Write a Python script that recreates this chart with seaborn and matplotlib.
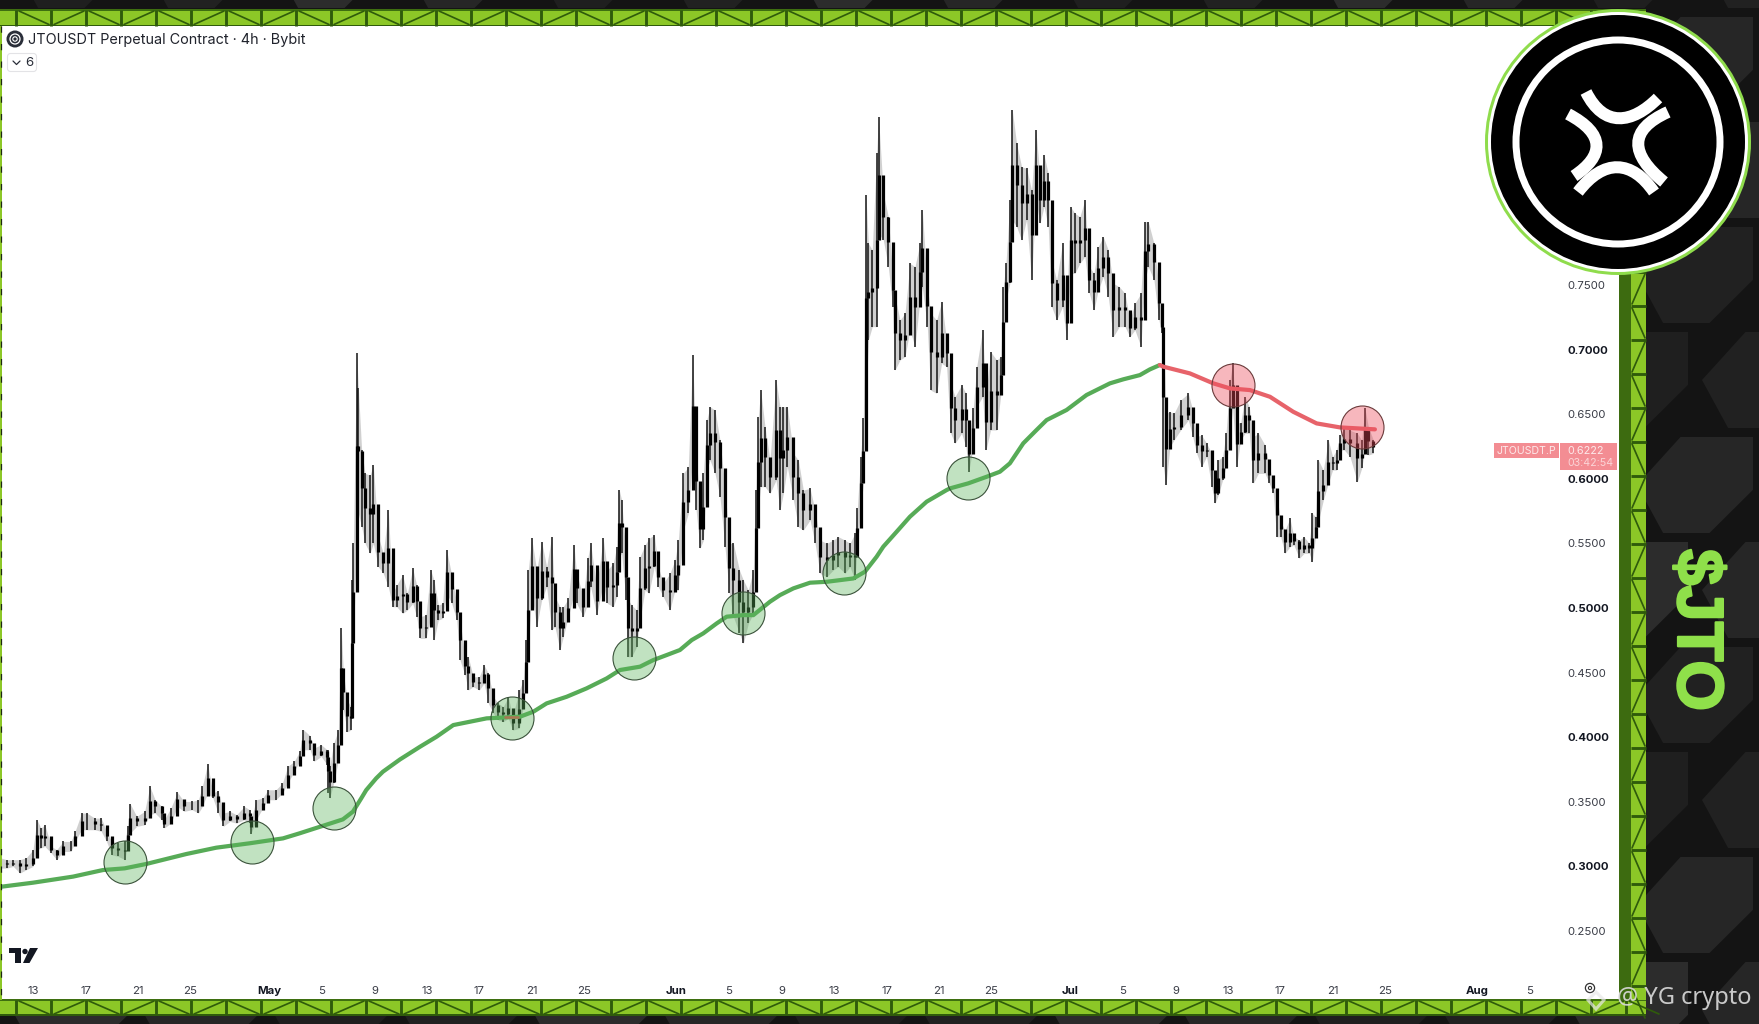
import numpy as np
import pandas as pd
import matplotlib
matplotlib.use("Agg")
import matplotlib.pyplot as plt
import matplotlib.patheffects as pe
from matplotlib.patches import Polygon, Circle, Rectangle, PathPatch, FancyBboxPatch
from matplotlib.path import Path
import seaborn as sns

# ---------- data: day = days counted from 31 Mar 2025 (1 = Apr 1, 31 = May 1, 62 = Jun 1, 92 = Jul 1)
apr_day = [10.6,11.0,11.5,12.0,12.5,13.0,13.3,13.6,13.9,14.4,14.8,15.3,15.9,16.2,16.7,17.1,17.7,18.2,18.6,19.0,19.5,20.0,20.2,20.4,20.9,21.5,21.9,22.3,22.8,23.0,23.5,24.0,24.5,25.1,25.6,25.9,26.3,26.7,27.1,27.5,28.0,28.5,29.1,29.5,29.6,30.0,30.5,30.9]
apr_high = [.3064,.3052,.3052,.3052,.3068,.3129,.3361,.3297,.3322,.3155,.3129,.3193,.3193,.3271,.3413,.3413,.3374,.3374,.3271,.3193,.3181,.3193,.3310,.3485,.3387,.3426,.3619,.3516,.3464,.3361,.3452,.3573,.3503,.3503,.3516,.3619,.3795,.3568,.3586,.3413,.3426,.3400,.3464,.3439,.3361,.3516,.3529,.3593]
apr_low = [.2987,.2987,.3000,.2948,.2975,.3000,.3129,.3142,.3155,.3103,.3052,.3116,.3116,.3193,.3284,.3284,.3284,.3271,.3193,.3090,.3077,.3052,.3181,.3258,.3310,.3322,.3400,.3413,.3361,.3297,.3335,.3464,.3426,.3439,.3413,.3464,.3568,.3529,.3413,.3310,.3348,.3335,.3361,.3335,.3253,.3361,.3452,.3516]

may_day = [31.5,32.0,32.4,32.9,33.3,33.6,34.1,34.4,34.95,35.4,35.5,35.6,35.9,36.26,36.48,36.64,36.94,37.2,37.32,37.4,37.65,37.78,38.03,38.29,38.67,38.92,39.3,39.68,40.06,40.39,40.7,41.15,41.51,41.92,42.22,42.47,42.93,43.29,43.54,43.87,44.2,44.5,44.89,45.27,45.52,45.9,46.15,46.53,46.99,47.35,47.68,48.06,48.44,48.82,49.2,49.53,50.04,50.34,50.55,50.72,50.98,51.36,51.74,52.12,52.5,52.75,53.13,53.39,53.77,54.2,54.4,54.91,55.24,55.47,55.93,56.43,56.74,57.2,57.45,57.65,57.83,58.16,58.34,58.59,58.97,59.23,59.61,59.91,60.32,60.62,61.0,61.51,61.89]
may_high = [.3593,.3645,.3774,.3813,.3890,.4058,.4011,.3916,.3942,.3903,.3903,.3774,.3955,.4055,.4842,.4494,.4288,.4236,.5216,.5500,.6976,.6700,.6223,.6042,.6029,.6107,.5552,.5423,.5758,.5113,.5178,.5255,.5113,.5307,.5178,.4933,.4945,.5294,.5216,.5023,.5036,.5449,.5255,.5036,.4907,.4623,.4623,.4468,.4468,.4558,.4494,.4313,.4262,.4236,.4313,.4159,.4365,.4442,.4752,.5294,.5539,.5294,.5513,.5320,.5552,.5087,.5010,.5010,.5074,.5487,.5268,.5087,.5384,.5500,.5165,.5539,.5294,.5345,.5474,.5913,.5836,.5423,.5062,.5023,.4984,.5397,.5487,.5539,.5565,.5320,.5191,.5268,.5371]
may_low = [.3516,.3568,.3645,.3735,.3813,.3903,.3903,.3813,.3851,.3787,.3568,.3529,.3645,.3823,.4236,.4210,.4042,.4055,.4236,.4752,.5526,.5732,.5629,.5500,.5423,.5500,.5320,.5268,.5165,.5010,.5010,.4958,.4984,.5036,.4933,.4765,.4765,.4933,.4752,.4907,.4920,.5113,.5036,.4907,.4597,.4481,.4365,.4391,.4365,.4417,.4262,.4184,.4133,.4120,.4146,.4055,.4068,.4236,.4417,.4675,.5113,.4855,.5062,.5165,.4829,.4855,.4675,.4778,.4933,.5113,.5036,.4933,.5036,.5165,.4945,.5191,.5036,.5010,.5087,.5397,.5423,.5062,.4623,.4623,.4700,.4907,.5139,.5113,.5320,.5165,.5087,.4984,.5139]

jun_day = [62.15,62.53,62.91,63.24,63.5,63.8,64.06,64.31,64.56,64.94,65.32,65.7,66.03,66.34,66.8,67.1,67.48,67.86,68.07,68.24,68.42,68.75,69.13,69.59,69.89,70.15,70.45,70.91,71.29,71.67,72.18,72.56,72.94,73.45,73.95,74.33,74.84,75.22,75.6,75.78,76.03,76.24,76.44,76.62,76.92,77.25,77.4,77.76,78.14,78.47,78.65,79.03,79.41,79.79,80.17,80.55,80.73,81.11,81.36,81.82,82.2,82.58,82.89,83.22,83.72,84.05,84.26,84.61,84.87,85.32,85.58,85.93,86.39,86.72,86.9,87.1,87.4,87.58,87.91,88.29,88.67,89.05,89.38,89.69,90.0,90.32,90.58,90.96,91.41,91.72]
jun_high = [.5526,.6042,.6094,.6958,.6210,.5758,.6042,.6455,.6558,.6532,.6300,.5939,.5500,.5500,.5294,.5216,.5139,.5294,.5913,.6481,.6687,.6403,.6145,.6764,.6558,.6558,.6558,.6197,.6145,.5913,.5926,.5758,.5526,.5500,.5526,.5552,.5526,.5500,.5578,.5771,.6171,.6468,.8197,.7823,.7771,.8519,.8798,.8210,.8029,.7590,.7410,.7229,.7281,.7668,.7642,.7823,.8081,.7500,.7281,.7229,.7371,.7074,.6739,.6636,.6726,.6662,.6326,.6545,.6868,.7152,.6662,.6984,.6920,.6945,.7487,.7668,.8158,.8855,.8597,.8416,.8403,.8235,.8700,.8339,.8506,.8364,.7694,.7539,.7823,.7332]
jun_low = [.5139,.5603,.5732,.6171,.5758,.5461,.5526,.6068,.6145,.6042,.5861,.5474,.5113,.4933,.4804,.4726,.4881,.4958,.5320,.5784,.5939,.5939,.5887,.5990,.5758,.5887,.6094,.5836,.5629,.5603,.5681,.5500,.5268,.5242,.5294,.5320,.5268,.5320,.5216,.5474,.5758,.5965,.6610,.7074,.7178,.7178,.7900,.7848,.7642,.7332,.6842,.6920,.6945,.7152,.7023,.7384,.7487,.7178,.6687,.6662,.6894,.6868,.6352,.6275,.6352,.6249,.6055,.6249,.6558,.6636,.6223,.6378,.6378,.6662,.6945,.7384,.7513,.8003,.7952,.7848,.8003,.7539,.8158,.7977,.8106,.7952,.7332,.7229,.7332,.7074]

jul_day = [92.02,92.35,92.73,93.11,93.45,93.8,94.13,94.51,94.89,95.27,95.73,96.16,96.54,96.92,97.38,97.68,97.94,98.37,98.75,98.95,99.08,99.29,99.59,99.9,100.4,100.99,101.32,101.62,102.0,102.38,102.77,103.02,103.27,103.6,103.86,104.16,104.36,104.67,104.97,105.3,105.63,105.94,106.32,106.83,107.16,107.46,107.71,108.02,108.35,108.73,109.03,109.44,109.8,110.2,110.43,110.68,110.89,111.27,111.65,111.98,112.28,112.54,112.87,113.3,113.86,114.19,114.44,114.7,115.08]
jul_high = [.8106,.8055,.8029,.8158,.7642,.7590,.7797,.7874,.7771,.7513,.7487,.7436,.7229,.7358,.7436,.7990,.7990,.7823,.7487,.7229,.7178,.6506,.6519,.6506,.6610,.6661,.6532,.6326,.6339,.6274,.6197,.5965,.6145,.6171,.6352,.6764,.6893,.6442,.6429,.6635,.6558,.6326,.6352,.6261,.6094,.5965,.5887,.5668,.5603,.5694,.5552,.5526,.5552,.5500,.5732,.5707,.6145,.6068,.6300,.6171,.6223,.6339,.6390,.6377,.6352,.6300,.6545,.6403,.6300]
jul_low = [.7590,.7590,.7668,.7719,.7436,.7307,.7461,.7565,.7410,.7100,.7178,.7178,.7100,.7152,.7023,.7539,.7642,.7539,.7229,.7126,.6094,.5952,.6248,.6300,.6377,.6455,.6326,.6197,.6094,.6171,.5939,.5810,.5874,.5990,.6094,.6326,.6558,.6094,.6300,.6352,.6352,.5965,.6042,.6042,.5965,.5887,.5552,.5552,.5423,.5474,.5487,.5384,.5423,.5423,.5358,.5552,.5668,.5836,.5965,.6068,.6068,.6223,.6223,.6171,.5977,.6081,.6223,.6184,.6197]

ema_up_day = [10.6,13.0,16.05,18.33,19.98,21.63,24.68,26.96,29.5,32.04,33.3,35.84,36.6,37.37,38.0,38.38,39.14,39.65,40.95,42.47,43.74,45.01,46.28,47.55,50.09,51.1,52.12,53.64,55.16,56.69,57.7,59.23,60.24,61.26,62.27,63.17,64.05,65.07,65.83,67.1,67.86,69.13,69.89,70.91,72.18,73.45,75.48,76.36,77.25,77.76,78.78,79.79,81.06,82.58,82.84,84.23,85.63,86.64,87.4,88.42,89.43,90.2,91.72,93.24,95.02,96.03,97.3,98.06,98.82]
ema_up_val = [.2843,.2874,.2921,.2972,.2985,.3019,.3096,.3145,.3179,.3217,.3256,.3339,.3364,.3424,.3527,.3591,.3682,.3733,.3828,.3926,.4004,.4094,.4120,.4146,.4159,.4197,.4262,.4313,.4378,.4455,.4520,.4546,.4597,.4636,.4675,.4752,.4804,.4881,.4933,.4945,.4945,.5049,.5100,.5152,.5196,.5203,.5229,.5281,.5397,.5475,.5591,.5707,.5823,.5913,.5926,.5965,.6016,.6055,.6120,.6275,.6378,.6455,.6533,.6649,.6739,.6770,.6803,.6847,.6881]
ema_down_day = [98.82,99.09,101.11,102.89,104.16,105.68,107.21,108.98,110.76,112.54,115.2]
ema_down_val = [.6881,.6868,.6816,.6739,.6700,.6687,.6635,.6519,.6429,.6398,.6383]
ema_flip_day = [48.95,49.96]
ema_flip_val = [.4158,.4158]

support_day = [20.0,29.68,35.92,49.48,58.77,67.07,74.77,84.21]
support_val = [.3034,.3189,.3452,.4149,.4613,.4961,.5271,.6006]
resist_day = [104.4,114.2]
resist_val = [.6726,.6401]

price_ticks = [.25,.30,.35,.40,.45,.50,.55,.60,.65,.70,.75]
price_bold = [.30,.40,.50,.60,.70]
date_ticks = [13,17,21,25,31,35,39,43,47,51,55,62,66,70,74,78,82,86,92,96,100,104,108,112,116,123,127]
date_labels = ["13","17","21","25","May","5","9","13","17","21","25","Jun","5","9","13","17","21","25","Jul","5","9","13","17","21","25","Aug","5"]
title_text = "JTOUSDT Perpetual Contract · 4h · Bybit"

# ---------- helpers
W, H = 1759, 1024
BASE = pd.Timestamp("2025-03-31")
def to_date(d):
    return BASE + pd.to_timedelta(np.asarray(d, float), unit="D")

sns.set_theme(style="white")
plt.rcParams["font.family"] = ["Inter", "DejaVu Sans"]
fig = plt.figure(figsize=(W/100, H/100), dpi=100, facecolor="#141414")
PX = 72/100

def pxaxes(z):
    a = fig.add_axes([0, 0, 1, 1], zorder=z)
    a.set_xlim(0, W); a.set_ylim(H, 0); a.axis("off")
    a.patch.set_alpha(0)
    return a

bg = pxaxes(0)
# dark tile background
cols = ["#262626", "#2c2c2c", "#212121", "#1f1f1f"]
for j, yc in enumerate(np.arange(-40, H+120, 105)):
    for i, xc in enumerate(np.arange(-60, W+120, 130)):
        xo = xc + (65 if j % 2 else 0)
        hw, hh = 58, 48
        bg.add_patch(Polygon([(xo-hw, yc), (xo-hw*0.25, yc-hh), (xo+hw, yc-hh), (xo+hw, yc+hh*0.1), (xo+hw*0.25, yc+hh), (xo-hw*0.55, yc+hh)],
                             fc=cols[(i*3+j) % 4], ec="none"))

LIGHT, DARK = "#8cc727", "#2f5b0b"
def hband(x0, x1, y0, y1):
    bg.add_patch(Rectangle((x0, y0), x1-x0, y1-y0, fc=LIGHT, ec="none"))
    bg.add_patch(Rectangle((x0, y0-1.5), x1-x0, 2, fc="#3e6f10", ec="none"))
    bg.add_patch(Rectangle((x0, y1-1), x1-x0, 1.5, fc=DARK, ec="none"))
    xs = np.arange(x0+16, x1, 35)
    for k, x in enumerate(xs):
        bg.plot([x, x], [y0, y1], color=DARK, lw=2.4*PX*1.2, solid_capstyle="butt")
        if k % 2:
            bg.plot([x+3, x+33], [y1-1, y0+1], color=DARK, lw=1.7*PX)
        else:
            bg.plot([x+3, x+33], [y0+1, y1-1], color=DARK, lw=1.7*PX)
def vband(x0, x1, y0, y1):
    bg.add_patch(Rectangle((x0, y0), x1-x0, y1-y0, fc=LIGHT, ec="none"))
    ys = np.arange(y0+8, y1, 34)
    for k, y in enumerate(ys):
        bg.plot([x0, x1], [y, y], color=DARK, lw=2.4*PX*1.2, solid_capstyle="butt")
        if k % 2:
            bg.plot([x0+1, x1-1], [y+32, y+2], color=DARK, lw=1.7*PX)
        else:
            bg.plot([x0+1, x1-1], [y+2, y+32], color=DARK, lw=1.7*PX)

bg.add_patch(Rectangle((0, 26), 1619, 974, fc="white", ec="none"))
hband(0, 1646, 10, 25.5)
hband(0, 1646, 1000, 1015)
bg.add_patch(Rectangle((1619, 26), 12, 974, fc="#3d6b10", ec="none"))
vband(1631, 1646, 26, 1000)
bg.add_patch(Rectangle((0, 26), 2.2, 974, fc="#8cc727", ec="none"))
bg.plot([0.6, 0.6], [26, 1000], color="#1c2a10", lw=0.9, ls=(0, (5, 9)))

# ---------- chart
ax = fig.add_axes([2/W, (H-1000)/H, (1619-2)/W, (1000-26)/H], zorder=1)
ax.patch.set_alpha(0)
for s in ax.spines.values():
    s.set_visible(False)

day = np.array(apr_day + may_day + jun_day + jul_day)
high = np.array(apr_high + may_high + jun_high + jul_high)
low = np.array(apr_low + may_low + jun_low + jul_low)
mid = (high + low) / 2
prev = np.r_[mid[0], mid[:-1]]
dates = to_date(day)

ax.fill_between(dates, low, high, color="#666666", alpha=0.3, lw=0, zorder=1.9)
ax.vlines(dates, low, high, color="#101010", lw=1.5*PX, zorder=2)
ax.vlines(dates, np.minimum(prev, mid), np.maximum(prev, mid), color="#000000", lw=3.2*PX, zorder=2.1)

sns.lineplot(x=to_date(ema_up_day), y=ema_up_val, color="#57ab57", lw=4.2*PX, ax=ax, zorder=3, estimator=None, sort=False)
sns.lineplot(x=to_date(ema_down_day), y=ema_down_val, color="#e7636a", lw=4.2*PX, ax=ax, zorder=3, estimator=None, sort=False)
sns.lineplot(x=to_date(ema_flip_day), y=ema_flip_val, color="#d9534f", lw=2.6*PX, ax=ax, zorder=3.1, estimator=None, sort=False)

DIAM = 43 * PX
sns.scatterplot(x=to_date(support_day), y=support_val, s=DIAM**2, color=(0.36, 0.70, 0.36, 0.38),
                edgecolor="#3a523a", linewidth=0.8, ax=ax, zorder=4, legend=False)
sns.scatterplot(x=to_date(resist_day), y=resist_val, s=DIAM**2, color=(0.93, 0.30, 0.36, 0.40),
                edgecolor="#6a3a3a", linewidth=0.8, ax=ax, zorder=4, legend=False)

ax.set_xlim(to_date(10.64), to_date(133.79))
ax.set_ylim(0.1966, 0.9505)
ax.set_xlabel(""); ax.set_ylabel("")
ax.set_xticks(to_date(date_ticks))
ax.set_xticklabels(date_labels)
ax.set_yticks(price_ticks)
ax.set_yticklabels([f"{v:.4f}" for v in price_ticks])
ax.yaxis.tick_right()
ax.tick_params(axis="y", length=0, pad=-52*PX, labelsize=8.2, labelcolor="#3a3d47")
ax.tick_params(axis="x", length=0, pad=-14*PX, labelsize=8.2, labelcolor="#3a3d47")
for lab in ax.get_yticklabels():
    lab.set_ha("left")
for lab, val in zip(ax.get_yticklabels(), price_ticks):
    if val in price_bold:
        lab.set_fontweight("bold"); lab.set_color("#131722")
for lab, txt in zip(ax.get_xticklabels(), date_labels):
    if txt.isalpha():
        lab.set_fontweight("bold"); lab.set_color("#131722")

# ---------- overlay furniture
ov = pxaxes(2)
ov.add_patch(Circle((15, 39), 8.5, fc="#2a2e39", ec="none"))
ov.add_patch(Circle((15, 39), 5, fc="none", ec="white", lw=0.9))
ov.add_patch(Circle((15, 39), 2.2, fc="none", ec="white", lw=0.8))
ov.text(28, 40, title_text, fontsize=10.4, color="#20232c", va="center", ha="left")
ov.add_patch(FancyBboxPatch((7.5, 53.5), 29, 18, boxstyle="round,pad=0,rounding_size=3", fc="white", ec="#e3e3e6", lw=0.8))
ov.plot([13, 16.5, 20], [61, 64.5, 61], color="#2a2e39", lw=0.9)
ov.text(29, 63, "6", fontsize=9.5, color="#2a2e39", va="center", ha="center")

# TradingView mark
ov.add_patch(Polygon([(9, 948), (21, 948), (21, 963), (15, 963), (15, 953), (9, 953)], fc="#131722", ec="none"))
ov.add_patch(Circle((25, 951.5), 2.7, fc="#131722", ec="none"))
ov.add_patch(Polygon([(30, 948), (38, 948), (29.5, 963), (23, 963)], fc="#131722", ec="none"))
# gear
ov.add_patch(Circle((1590, 988), 4.6, fc="none", ec="#333333", lw=0.9))
ov.add_patch(Circle((1590, 988), 1.6, fc="none", ec="#333333", lw=0.8))

# price tags
TAG = "#f38d93"
ov.add_patch(Rectangle((1494, 443), 65, 15, fc=TAG, ec="none"))
ov.add_patch(Rectangle((1560, 443), 57, 27, fc=TAG, ec="none"))
ov.text(1526.5, 451, "JTOUSDT.P", fontsize=7.6, color="#fde9ea", va="center", ha="center")
ov.text(1567, 451, "0.6222", fontsize=7.8, color="#fde9ea", va="center", ha="left")
ov.text(1567, 463, "03:42:54", fontsize=7.6, color="#fbd5d7", va="center", ha="left")

# logo
cx, cy = 1618, 142
ov.add_patch(Circle((cx, cy), 133, fc="#8fdc4c", ec="none"))
ov.add_patch(Circle((cx, cy), 130, fc="white", ec="none"))
ov.add_patch(Circle((cx, cy), 127, fc="black", ec="none"))
ov.add_patch(Circle((cx, cy), 102, fc="none", ec="white", lw=7*PX))
strokes = [[(-32, -50), (-14, -14), (14, -18), (40, -44)],
           [(50, -30), (10, -12), (12, 12), (46, 40)],
           [(-40, 50), (-14, 16), (14, 18), (36, 50)],
           [(-50, -28), (-12, -8), (-14, 14), (-44, 34)]]
for st in strokes:
    verts = [(cx+a, cy+b) for a, b in st]
    ov.add_patch(PathPatch(Path(verts, [Path.MOVETO, Path.CURVE4, Path.CURVE4, Path.CURVE4]), fc="none", ec="white",
                           lw=12*PX, capstyle="butt"))

t = ov.text(1695, 630, "$JTO", rotation=-90, fontsize=47, fontweight="bold", color="#8fe04a",
            family=["Liberation Sans", "DejaVu Sans"], va="center", ha="center")
t.set_path_effects([pe.withStroke(linewidth=1.6, foreground="#8fe04a")])
ov.text(1617, 998, "@ YG crypto", fontsize=17, color="#d8d8d8", va="center", ha="left", alpha=0.92,
        family=["Noto Sans", "DejaVu Sans"])
ov.add_patch(Polygon([(1596, 992), (1604, 1000), (1596, 1009), (1588, 1000)], fc="none", ec="#e8e8e8", lw=2.2, alpha=0.7))

fig.savefig("out.png", dpi=100, facecolor=fig.get_facecolor())
